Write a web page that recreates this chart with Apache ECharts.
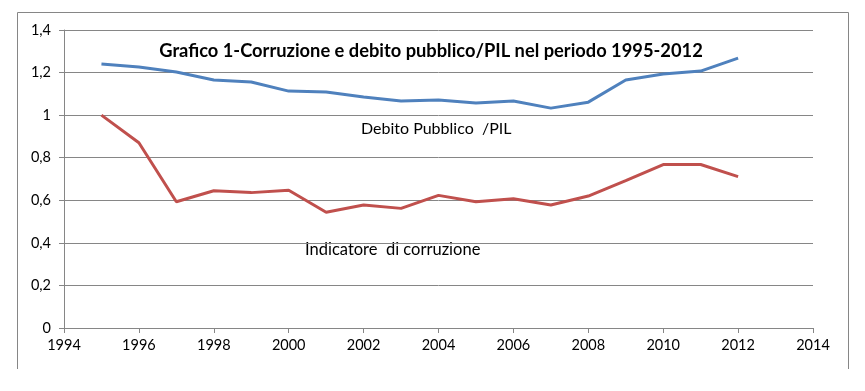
<!DOCTYPE html>
<html>
<head>
<meta charset="utf-8">
<script src="https://cdn.jsdelivr.net/npm/echarts@6/dist/echarts.min.js"></script>
<style>html,body{margin:0;padding:0;background:#fff;}#c{width:865px;height:391px;}</style>
</head>
<body>
<div id="c"></div>
<script>
const years = [1995,1996,1997,1998,1999,2000,2001,2002,2003,2004,2005,2006,2007,2008,2009,2010,2011,2012];
const debitoPil = [1.240,1.226,1.203,1.165,1.156,1.113,1.109,1.085,1.066,1.071,1.057,1.066,1.033,1.061,1.165,1.193,1.207,1.268];
const corruzione = [1.000,0.870,0.593,0.645,0.636,0.647,0.544,0.578,0.562,0.623,0.593,0.607,0.578,0.620,0.692,0.768,0.768,0.711];
const titleText = 'Grafico 1-Corruzione e debito pubblico/PIL nel periodo 1995-2012';
const labelDebito = 'Debito Pubblico  /PIL';
const labelCorr = 'Indicatore  di corruzione';

const chart = echarts.init(document.getElementById('c'));
const font = 'Lato, "Open Sans", sans-serif';
chart.setOption({
  animation: false,
  backgroundColor: '#fff',
  textStyle: {fontFamily: font},
  title: {
    text: titleText, left: 426, top: 37, textAlign: 'center',
    textStyle: {fontFamily: font, fontWeight: 'bold', fontSize: 18.3, color: '#000'}
  },
  grid: {left: 64, right: 52, top: 30, bottom: 63},
  xAxis: {
    type: 'value', min: 1994, max: 2014, interval: 2,
    axisLine: {show: true, lineStyle: {color: '#868686', width: 1}},
    axisTick: {show: true, length: 5, lineStyle: {color: '#868686'}},
    axisLabel: {color: '#000', fontSize: 14.5, margin: 10, fontFamily: font,
      formatter: v => String(v)},
    splitLine: {show: false}
  },
  yAxis: {
    type: 'value', min: 0, max: 1.4, interval: 0.2,
    axisLine: {show: true, lineStyle: {color: '#868686', width: 1}},
    axisTick: {show: true, length: 5, lineStyle: {color: '#868686'}},
    axisLabel: {color: '#000', fontSize: 14.5, margin: 13, fontFamily: font,
      formatter: v => String(Math.round(v*10)/10).replace('.', ',')},
    splitLine: {show: true, lineStyle: {color: '#868686', width: 1}}
  },
  series: [
    {name: 'Debito Pubblico /PIL', type: 'line', showSymbol: false, symbol: 'none',
     data: years.map((y,i)=>[y, debitoPil[i]]), lineStyle: {color: '#4F81BD', width: 3}},
    {name: 'Indicatore di corruzione', type: 'line', showSymbol: false, symbol: 'none',
     data: years.map((y,i)=>[y, corruzione[i]]), lineStyle: {color: '#C0504D', width: 3}}
  ],
  graphic: [
    {type: 'polyline', shape: {points: [[17.5,369],[17.5,12.5],[848.5,12.5],[848.5,369]]},
     style: {stroke: '#868686', fill: null, lineWidth: 1}},
    {type: 'text', left: 361, top: 121, style: {text: labelDebito, font: '16px ' + font, fill: '#000'}},
    {type: 'text', left: 305, top: 241, style: {text: labelCorr, font: '16.5px ' + font, fill: '#000'}}
  ]
});
</script>
</body>
</html>
